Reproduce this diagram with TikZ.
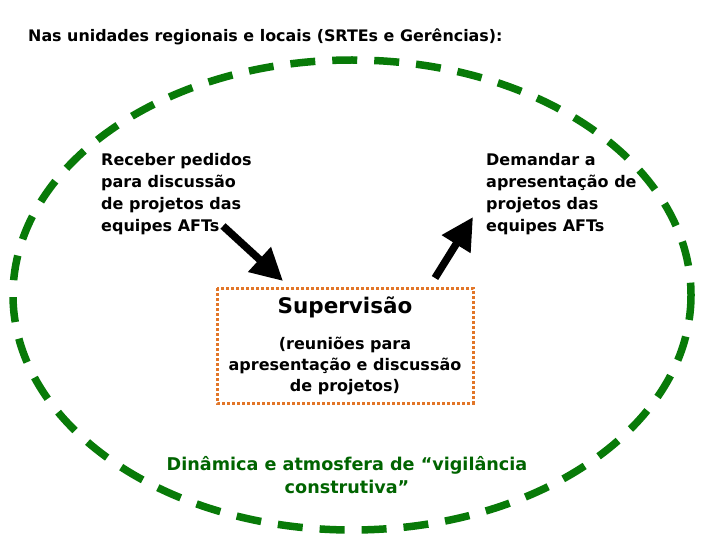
\documentclass[tikz,border=0pt]{standalone}
\usepackage{fontspec}
\setmainfont{DejaVu Sans}
\usetikzlibrary{arrows.meta}
\definecolor{ellgreen}{RGB}{8,122,8}
\definecolor{txtgreen}{RGB}{0,100,0}
\definecolor{boxorange}{RGB}{226,118,40}
\tikzset{
  sidetext/.style={align=left, inner sep=0pt, font=\bfseries\fontsize{16}{22}\selectfont},
  bigarrow/.style={line width=7.5pt, -{Triangle[length=32pt,width=32pt]}, shorten >=0pt},
}
\begin{document}
\begin{tikzpicture}[x=1pt,y=-1pt]
\useasboundingbox (0,0) rectangle (720,540);
\fill[white] (0,0) rectangle (720,540);
% title
\node[anchor=base west, inner sep=0pt, font=\bfseries\fontsize{15.9}{18}\selectfont] (title) at (28,42) {Nas unidades regionais e locais (SRTEs e Gerências):};
% big ellipse
\draw[ellgreen, line width=7.5pt, dash pattern=on 25pt off 17pt] (352,295) ellipse [x radius=339, y radius=235];
% side texts
\node[sidetext, anchor=north west] (left) at (101,153) {Receber pedidos\\para discussão\\de projetos das\\equipes AFTs};
\node[sidetext, anchor=north west] (right) at (486,153) {Demandar a\\apresentação de\\projetos das\\equipes AFTs};
% box
\draw[boxorange, line width=3pt, dash pattern=on 3pt off 2pt] (217,288) rectangle (473,403);
\node[inner sep=0pt, font=\bfseries\fontsize{21.5}{24}\selectfont] (sup) at (345,307) {Supervisão};
\node[inner sep=0pt, align=center, font=\bfseries\fontsize{16}{21}\selectfont] (sub) at (345,366) {(reuniões para\\apresentação e discussão\\de projetos)};
% arrows
\coordinate (a1s) at (223,226);
\coordinate (a1e) at (283,281);
\coordinate (a2s) at (435,278);
\coordinate (a2e) at (473,217);
\draw[bigarrow] (a1s) -- (a1e);
\draw[bigarrow] (a2s) -- (a2e);
% green text
\node[inner sep=0pt, align=center, text=txtgreen, font=\bfseries\fontsize{17.6}{23}\selectfont] (dyn) at (347,475) {Dinâmica e atmosfera de “vigilância\\construtiva”};
\end{tikzpicture}
\end{document}
